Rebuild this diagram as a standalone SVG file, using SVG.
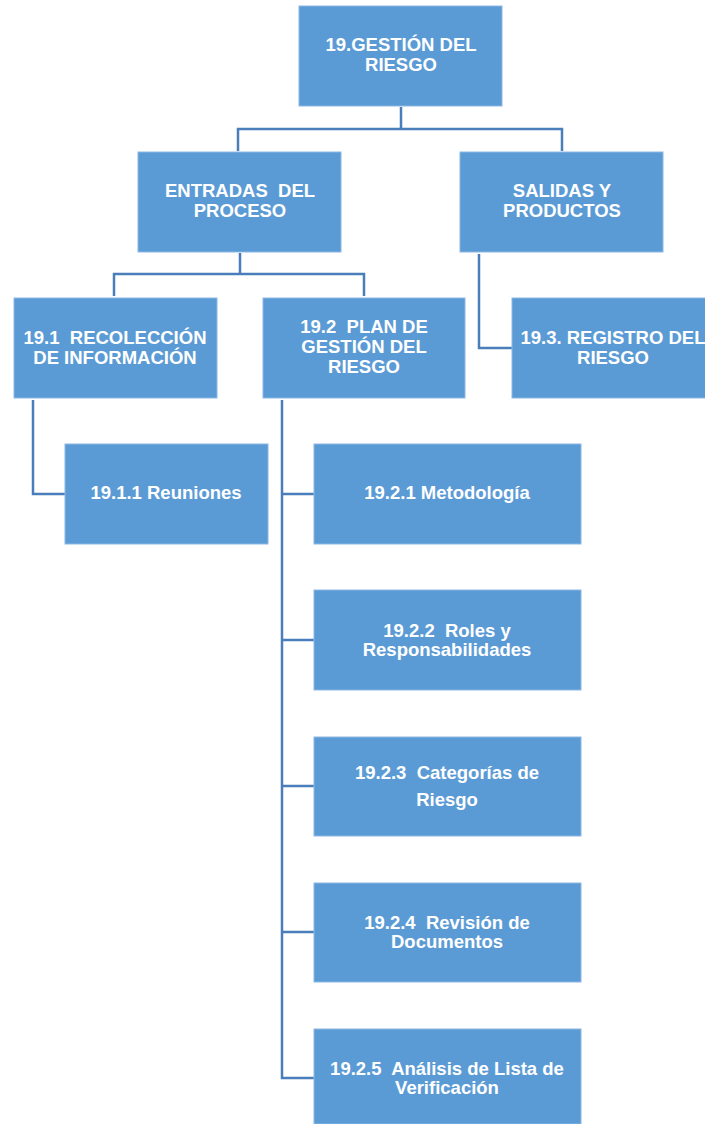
<svg xmlns="http://www.w3.org/2000/svg" width="705" height="1124" viewBox="0 0 705 1124">
<style>
.box{fill:#5B9BD5;stroke:#8DB8E3;stroke-width:1}
.t{font-family:"Liberation Sans",Arial,sans-serif;font-weight:bold;font-size:18.5px;fill:#FFFFFF;text-anchor:middle;white-space:pre}
.c{fill:none;stroke:#4A7EBB;stroke-width:2.5}
</style>
<rect width="705" height="1124" fill="#FFFFFF"/>
<g id="connectors">
<path class="c" d="M401,107 V129 M238,151 V129 H562 V151"/>
<path class="c" d="M240,253 V274 M114,296 V274 H364 V296"/>
<path class="c" d="M479,254 V348 H512"/>
<path class="c" d="M33,400 V494 H65"/>
<path class="c" d="M282,400 V1078 H314 M282,494 H314 M282,640 H314 M282,786 H314 M282,932 H314"/>
</g>
<g id="n19"><rect class="box" x="299" y="6" width="203" height="100"/><text class="t" x="401" y="51">19.GESTIÓN DEL</text><text class="t" x="401" y="71">RIESGO</text></g>
<g id="entradas"><rect class="box" x="138" y="152" width="203" height="100"/><text class="t" x="240" y="197" xml:space="preserve">ENTRADAS  DEL</text><text class="t" x="240" y="217">PROCESO</text></g>
<g id="salidas"><rect class="box" x="460" y="152" width="203" height="100"/><text class="t" x="562" y="197">SALIDAS Y</text><text class="t" x="562" y="217">PRODUCTOS</text></g>
<g id="n191"><rect class="box" x="14" y="298" width="203" height="100"/><text class="t" x="115" y="344" xml:space="preserve">19.1  RECOLECCIÓN</text><text class="t" x="115" y="364">DE INFORMACIÓN</text></g>
<g id="n192"><rect class="box" x="263" y="298" width="202" height="100"/><text class="t" x="364" y="333" xml:space="preserve">19.2  PLAN DE</text><text class="t" x="364" y="353">GESTIÓN DEL</text><text class="t" x="364" y="373">RIESGO</text></g>
<g id="n193"><rect class="box" x="512" y="298" width="203" height="100"/><text class="t" x="613" y="344">19.3. REGISTRO DEL</text><text class="t" x="613" y="364">RIESGO</text></g>
<g id="n1911"><rect class="box" x="65" y="444" width="203" height="100"/><text class="t" x="166" y="499">19.1.1 Reuniones</text></g>
<g id="n1921"><rect class="box" x="314" y="444" width="267" height="100"/><text class="t" x="447" y="499">19.2.1 Metodología</text></g>
<g id="n1922"><rect class="box" x="314" y="590" width="267" height="100"/><text class="t" x="447" y="637" xml:space="preserve">19.2.2  Roles y</text><text class="t" x="447" y="656">Responsabilidades</text></g>
<g id="n1923"><rect class="box" x="314" y="737" width="267" height="99"/><text class="t" x="447" y="779" xml:space="preserve">19.2.3  Categorías de</text><text class="t" x="447" y="806">Riesgo</text></g>
<g id="n1924"><rect class="box" x="314" y="883" width="267" height="99"/><text class="t" x="447" y="929" xml:space="preserve">19.2.4  Revisión de</text><text class="t" x="447" y="948">Documentos</text></g>
<g id="n1925"><rect class="box" x="314" y="1029" width="267" height="95"/><text class="t" x="447" y="1075" xml:space="preserve">19.2.5  Análisis de Lista de</text><text class="t" x="447" y="1094">Verificación</text></g>
</svg>
